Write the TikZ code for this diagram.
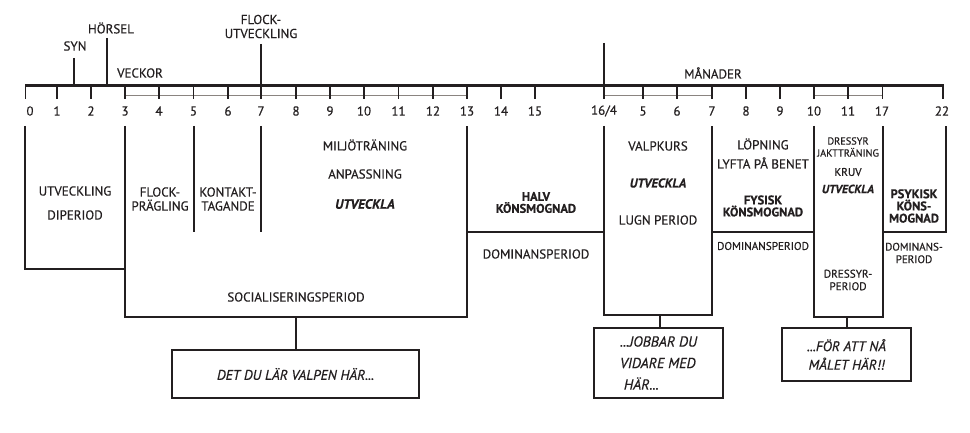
\documentclass[tikz,border=0pt]{standalone}
\usepackage{fontspec}
\setmainfont{PT Sans}[FakeBold=0.5]
\definecolor{ink}{HTML}{231F20}
\definecolor{subink}{HTML}{8A8480}
\begin{document}
\begin{tikzpicture}[x=1pt,y=-1pt,
  axis/.style={line width=3pt, draw=ink},
  tick/.style={line width=1.2pt, draw=ink},
  uptick/.style={line width=1.8pt, draw=ink},
  sub/.style={line width=0.9pt, draw=subink},
  frame/.style={line width=2pt, draw=ink, line join=miter},
  conn/.style={line width=1.5pt, draw=ink},
  lbl/.style={font=\fontsize{13}{14}\selectfont, text=ink, align=center, inner sep=0pt},
  num/.style={font=\fontsize{13}{13}\selectfont, text=ink, inner sep=0pt},
  sml/.style={font=\fontsize{11.2}{12.5}\selectfont, text=ink, align=center, inner sep=0pt},
  bld/.style={font=\fontsize{12.5}{12}\selectfont\bfseries, text=ink, align=center, inner sep=0pt},
  bit/.style={text=ink, align=center, inner sep=0pt},
  callout/.style={draw=ink, line width=1.5pt, fill=white, font=\fontsize{14.5}{21.5}\selectfont\itshape, text=ink, inner sep=0pt}
]
\useasboundingbox (0,0) rectangle (970,433);

% ---- axis ----
\coordinate (a0) at (25,86);
\coordinate (a22) at (944,86);
\draw[axis] (a0) -- (a22);
% secondary thin lines
\draw[sub] (125,95) -- (467,95);
\draw[sub] (604,95) -- (712,95);
\draw[sub] (814,95) -- (882.5,95);
% ticks
\foreach \x in {25.7,57,91,125,159,193.5,228,261,296,330,364,398.5,433,467,501,535,604,643,677,712,746,780,814,848,882.5,943}{
  \draw[tick] (\x,86) -- (\x,99);
}
\foreach \x/\t [count=\i] in {30/0,57/1,91/2,125/3,159/4,193.5/5,228/6,261/7,296/8,330/9,364/10,398.5/11,433/12,467/13,501/14,535/15,604/{16/4},643/5,677/6,712/7,746/8,780/9,814/10,848/11,882/17,942/22}{
  \node[num] (n\i) at (\x,111) {\t};
}
% upper ticks
\draw[uptick] (74,58) -- (74,86);
\draw[uptick] (107,38) -- (107,86);
\draw[uptick] (261,44) -- (261,86);
\draw[uptick] (604,43) -- (604,86);
\node[lbl] (syn) at (75,46) {SYN};
\node[lbl] (hor) at (111,28) {HÖRSEL};
\node[lbl] (flock) at (261,26.5) {FLOCK-\\UTVECKLING};
\node[lbl] (veckor) at (140,73) {VECKOR};
\node[lbl] (manader) at (713,73) {MÅNADER};

% ---- period frames ----
\draw[frame] (25,126) -- (25,269) -- (125,269);
\draw[frame] (125,126) -- (125,317) -- (467,317) -- (467,126);
\draw[frame] (193.5,126) -- (193.5,232);
\draw[frame] (261,126) -- (261,232);
\draw[frame] (467,232) -- (604,232);
\draw[frame] (604,126) -- (604,315) -- (712,315) -- (712,126);
\draw[frame] (712,232) -- (814,232);
\draw[frame] (814,126) -- (814,317) -- (883,317) -- (883,126);
\draw[frame] (883,232) -- (946,232) -- (946,126);

% ---- texts ----
\node[lbl] (utv) at (75,191) {UTVECKLING};
\node[lbl] (dip) at (75,215) {DIPERIOD};
\node[lbl] (flp) at (160,199) {FLOCK-\\PRÄGLING};
\node[lbl] (kon) at (228,199) {KONTAKT-\\TAGANDE};
\node[lbl] (milj) at (365,145) {MILJÖTRÄNING};
\node[lbl] (anp) at (365,174) {ANPASSNING};
\node[bit,font=\fontsize{13.5}{13.5}\selectfont\bfseries\itshape] (utv2) at (365,204) {UTVECKLA};
\node[lbl] (soc) at (296,297) {SOCIALISERINGSPERIOD};

\node[bld] (halv) at (536,202.5) {HALV\\KÖNSMOGNAD};
\node[lbl] (dom1) at (536,254) {DOMINANSPERIOD};

\node[lbl] (valpk) at (658,146) {VALPKURS};
\node[bit,font=\fontsize{12.8}{12.8}\selectfont\bfseries\itshape] (utv3) at (658,183) {UTVECKLA};
\node[lbl] (lugn) at (658,220) {LUGN PERIOD};

\node[lbl] (lop) at (763,144) {LÖPNING};
\node[lbl] (lyft) at (763,163) {LYFTA PÅ BENET};
\node[bld] (fys) at (763,206) {FYSISK\\KÖNSMOGNAD};
\node[sml] (dom2) at (763,246) {DOMINANSPERIOD};

\node[sml,font=\fontsize{10.3}{12}\selectfont] (dress) at (848,147) {DRESSYR\\JAKTTRÄNING};
\node[sml] (kruv) at (848,172) {KRUV};
\node[bit,font=\fontsize{11.8}{11.8}\selectfont\bfseries\itshape] (utv4) at (848,189) {UTVECKLA};
\node[sml] (drp) at (848,280) {DRESSYR-\\PERIOD};

\node[bld,font=\fontsize{12.5}{12.2}\selectfont\bfseries] (psyk) at (914,206) {PSYKISK\\KÖNS-\\MOGNAD};
\node[sml,font=\fontsize{11}{12.5}\selectfont] (dom3) at (914,253) {DOMINANS-\\PERIOD};

% ---- callouts ----
\coordinate (socb) at (296,317);
\coordinate (valpb) at (660,315);
\coordinate (dressb) at (847,317);
\node[callout, minimum width=247pt, minimum height=48pt, font=\fontsize{14}{21}\selectfont\itshape] (c1) at (295.5,374) {DET DU LÄR VALPEN HÄR...};
\node[callout, minimum width=129pt, minimum height=70pt, align=left] (c2) at (658.5,363) {...JOBBAR DU\\VIDARE MED\\\ HÄR...};
\node[callout, minimum width=129pt, minimum height=53pt, align=center, font=\fontsize{14}{18.5}\selectfont\itshape] (c3) at (846.5,354.5) {...FÖR ATT NÅ\\MÅLET HÄR!!};
\draw[conn] (socb) -- (socb |- c1.north);
\draw[conn] (valpb) -- (valpb |- c2.north);
\draw[conn] (dressb) -- (dressb |- c3.north);
\end{tikzpicture}
\end{document}
